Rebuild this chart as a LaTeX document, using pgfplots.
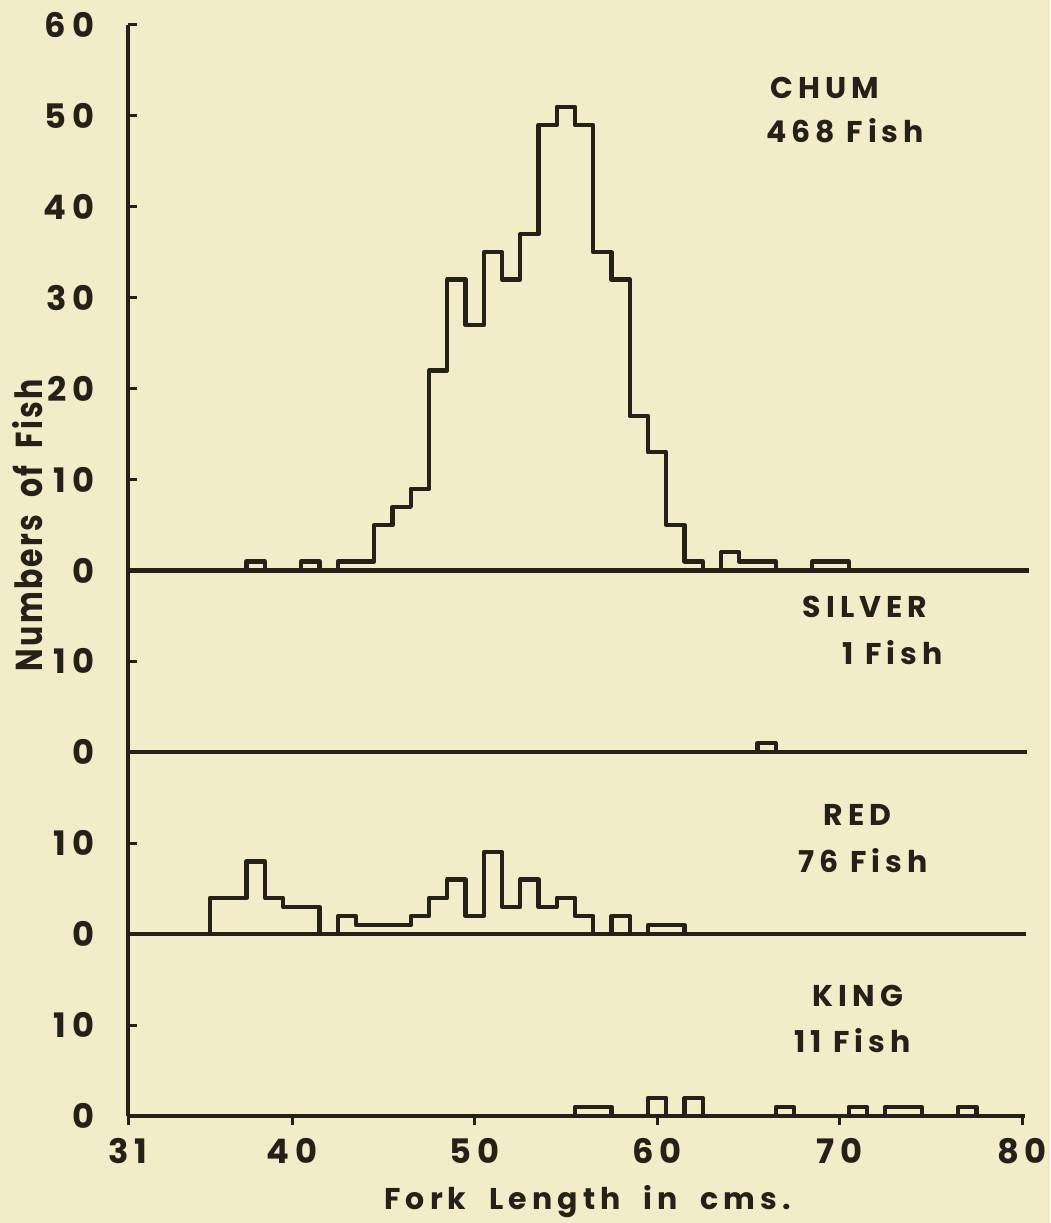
\documentclass[border=0pt]{standalone}
\usepackage{fontspec}
\setmainfont{Poppins}
\newfontfamily\lbl[LetterSpace=17]{Poppins}
\newfontfamily\ylbl[LetterSpace=6,FakeStretch=0.8]{Poppins}
\usepackage{pgfplots}
\pgfplotsset{compat=1.18}
\usepackage{pgfplotstable}
\definecolor{bg}{RGB}{243,236,200}
\definecolor{ink}{RGB}{38,33,24}

\pgfplotstableread{
x n
37.5 0
37.5 1
38.5 0
40.5 1
41.5 0
42.5 1
44.5 5
45.5 7
46.5 9
47.5 22
48.5 32
49.5 27
50.5 35
51.5 32
52.5 37
53.5 49
54.5 51
55.5 49
56.5 35
57.5 32
58.5 17
59.5 13
60.5 5
61.5 1
62.5 0
63.5 2
64.5 1
66.5 0
68.5 1
70.5 0
}\chum

\pgfplotstableread{
x n
65.5 0
65.5 1
66.5 0
}\silver

\pgfplotstableread{
x n
35.5 0
35.5 4
37.5 8
38.5 4
39.5 3
41.5 0
42.5 2
43.5 1
46.5 2
47.5 4
48.5 6
49.5 2
50.5 9
51.5 3
52.5 6
53.5 3
54.5 4
55.5 2
56.5 0
57.5 2
58.5 0
59.5 1
61.5 0
}\red

\pgfplotstableread{
x n
55.5 0
55.5 1
57.5 0
59.5 2
60.5 0
61.5 2
62.5 0
66.5 1
67.5 0
70.5 1
71.5 0
72.5 1
74.5 0
76.5 1
77.5 0
}\king

\begin{document}
\begin{tikzpicture}
\fill[bg] (-51.2pt,-42.8pt) rectangle (368.8pt,446.4pt);
\begin{axis}[
  at={(0,0)}, anchor=south west,
  scale only axis, width=357.6pt, height=436.4pt,
  xmin=31, xmax=80, ymin=0, ymax=120,
  axis lines*=left,
  axis line style={-, line width=1.7pt, draw=ink},
  xtick={31,40,50,60,70,80},
  ytick={0,10,...,120},
  yticklabels={0,10,0,10,0,10,0,10,20,30,40,50,60},
  tick align=outside,
  major tick length=3.5pt,
  tick style={line width=1.2pt, draw=ink},
  ytick style={xshift=3.5pt},
  /pgf/number format/assume math mode=true,
  ticklabel style={font=\lbl\bfseries\fontsize{13.5}{15}\selectfont, text=ink},
  yticklabel style={xshift=-6.5pt},
  xticklabel style={yshift=-2pt},
  clip=false,
]
\addplot[line width=1.7pt, draw=ink] coordinates {(31,60) (80.4,60)};
\addplot[line width=1.7pt, draw=ink] coordinates {(31,40) (80.3,40)};
\addplot[line width=1.7pt, draw=ink] coordinates {(31,20) (80.2,20)};
\addplot[line width=1.7pt, draw=ink] coordinates {(31,0) (80.15,0)};
\addplot[const plot, line width=1.7pt, draw=ink, line join=round] table[x=x, y expr=\thisrow{n}+60] {\chum};
\addplot[const plot, line width=1.7pt, draw=ink, line join=round] table[x=x, y expr=\thisrow{n}+40] {\silver};
\addplot[const plot, line width=1.7pt, draw=ink, line join=round] table[x=x, y expr=\thisrow{n}+20] {\red};
\addplot[const plot, line width=1.7pt, draw=ink, line join=round] table[x=x, y expr=\thisrow{n}] {\king};

\begin{scope}[every node/.style={font=\lbl\bfseries\fontsize{12}{14}\selectfont, text=ink, inner sep=0pt}]
\node at (axis cs:69.2,113.1) {CHUM};
\node at (axis cs:70.3,108.4) {468 Fish};
\node at (axis cs:71.4,56.0) {SILVER};
\node at (axis cs:72.9,51.0) {1 Fish};
\node at (axis cs:71.0,33.1) {RED};
\node at (axis cs:71.3,28.1) {76 Fish};
\node at (axis cs:71.0,13.2) {KING};
\node at (axis cs:70.7,8.3) {11 Fish};
\node at (axis cs:56.2,-9.4) {Fork\ \ Length\ \ in\ \ cms.};
\end{scope}
\node[rotate=90, font=\ylbl\bfseries\fontsize{15}{17}\selectfont, text=ink, inner sep=0pt] at (axis cs:25.5,65) {Numbers\ \ of\ \ Fish};
\end{axis}
\pgfresetboundingbox
\path (-51.2pt,-42.8pt) rectangle (368.8pt,446.4pt);
\end{tikzpicture}
\end{document}
